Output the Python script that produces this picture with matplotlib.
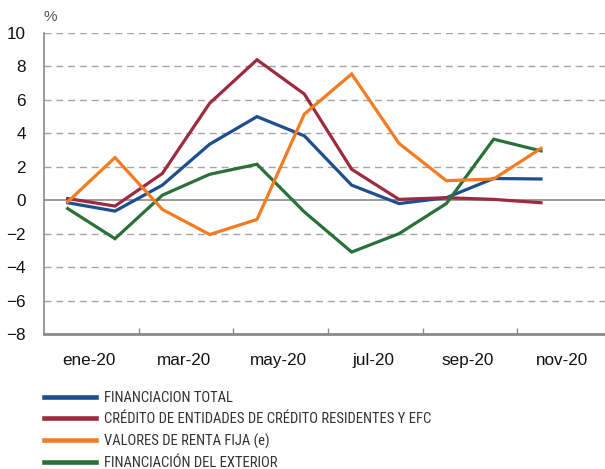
import matplotlib
matplotlib.use("Agg")
import matplotlib.pyplot as plt
from matplotlib.lines import Line2D
from matplotlib import font_manager as fm

months = ["ene-20", "feb-20", "mar-20", "abr-20", "may-20", "jun-20",
          "jul-20", "ago-20", "sep-20", "oct-20", "nov-20"]
tick_labels = ["ene-20", "mar-20", "may-20", "jul-20", "sep-20", "nov-20"]

financiacion_total = [-0.15, -0.65, 0.9, 3.35, 5.0, 3.85, 0.9, -0.2, 0.15, 1.3, 1.27]
credito_entidades = [0.1, -0.35, 1.6, 5.8, 8.4, 6.35, 1.85, 0.05, 0.15, 0.05, -0.15]
valores_renta_fija = [-0.1, 2.55, -0.55, -2.05, -1.15, 5.15, 7.55, 3.4, 1.17, 1.27, 3.1]
financiacion_exterior = [-0.5, -2.3, 0.3, 1.55, 2.15, -0.7, -3.1, -2.0, -0.2, 3.65, 2.95]

names = ["FINANCIACION TOTAL",
         "CRÉDITO DE ENTIDADES DE CRÉDITO RESIDENTES Y EFC",
         "VALORES DE RENTA FIJA (e)",
         "FINANCIACIÓN DEL EXTERIOR"]
colors = ["#1d4e8f", "#9e2a3f", "#f57b20", "#2b7038"]

plt.rcParams['font.family'] = ['Liberation Sans', 'DejaVu Sans']

# pick a condensed family for the legend if one is installed
available = {f.name for f in fm.fontManager.ttflist}
legend_family = 'Liberation Sans'
narrow = False
for cand in ['Liberation Sans Narrow', 'Roboto Condensed', 'Noto Sans Condensed',
             'Open Sans Condensed', 'DejaVu Sans Condensed', 'Arial Narrow']:
    if cand in available:
        legend_family = cand
        narrow = True
        break

W, H = 605, 469
fig = plt.figure(figsize=(W / 100, H / 100), dpi=100)
ax = fig.add_axes([44 / W, 1 - 334 / H, (612 - 44) / W, (334 - 33) / H])

x = list(range(len(months)))
series = [financiacion_total, credito_entidades, valores_renta_fija, financiacion_exterior]
draw_order = [0, 1, 3, 2]
for i in draw_order:
    ax.plot(x, series[i], color=colors[i], lw=2.3, solid_joinstyle='miter', zorder=3 + draw_order.index(i))

ax.set_xlim(-0.5, 11.5)
ax.set_ylim(-8, 10)
ax.set_yticks(range(-8, 11, 2))
for v in range(-6, 11, 2):
    if v == 0:
        ax.axhline(0, color="#8a8a8a", lw=1.2, zorder=2)
    else:
        ax.axhline(v, color="#a5a5a5", lw=1.0, ls=(0, (5, 3.5)), zorder=1)

ax.set_xticks([1.5, 3.5, 5.5, 7.5, 9.5])
ax.set_xticklabels([])
ax.set_xticks([0.45, 2.45, 4.45, 6.45, 8.45, 10.45], minor=True)
ax.set_xticklabels(tick_labels, minor=True, fontsize=12.3, color="#111111")
ax.tick_params(axis='x', which='major', direction='in', length=4, color="#8a8a8a", width=1)
ax.tick_params(axis='x', which='minor', length=0, pad=14)
ax.tick_params(axis='y', length=0, pad=13, labelsize=12.3, labelcolor="#111111")

for s in ["top", "right"]:
    ax.spines[s].set_visible(False)
ax.spines["left"].set_color("#8a8a8a")
ax.spines["left"].set_linewidth(1.2)
ax.spines["bottom"].set_color("#8a8a8a")
ax.spines["bottom"].set_linewidth(2.0)

fig.text(44 / W, 1 - 17 / H, "%", fontsize=11, color="#555555", va="center", ha="left")

handles = [Line2D([0], [0], color=c, lw=3.3) for c in colors]
leg_size = 10.5 if narrow else 8.6
fig.legend(handles, names, loc="upper left", bbox_to_anchor=(38 / W, 1 - 385 / H),
           frameon=False,
           prop={'family': [legend_family, 'Liberation Sans'], 'size': leg_size},
           handlelength=52 / (leg_size * 1.389), handletextpad=8 / (leg_size * 1.389),
           labelspacing=0.5 if narrow else 0.75, borderaxespad=0,
           labelcolor="#333333")

fig.savefig("out.png", dpi=100)
